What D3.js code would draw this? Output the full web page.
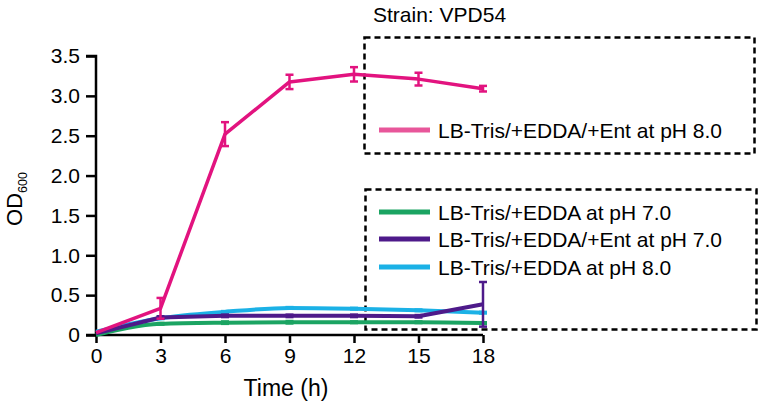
<!DOCTYPE html>
<html><head><meta charset="utf-8">
<script src="https://cdn.jsdelivr.net/npm/d3@7"></script>
<style>body{margin:0;background:#fff}svg{font-family:Arial,"Liberation Sans",sans-serif}</style>
</head><body><svg id="c" width="763" height="410"></svg>
<script>
const times = [0, 3, 6, 9, 12, 15, 18];
const xTicks = [0, 3, 6, 9, 12, 15, 18];
const yTicks = [0, 0.5, 1.0, 1.5, 2.0, 2.5, 3.0, 3.5];
const yTickLabels = ["0", "0.5", "1.0", "1.5", "2.0", "2.5", "3.0", "3.5"];
const seriesNames = ["LB-Tris/+EDDA at pH 7.0", "LB-Tris/+EDDA/+Ent at pH 7.0", "LB-Tris/+EDDA at pH 8.0", "LB-Tris/+EDDA/+Ent at pH 8.0"];
const greenVals = [0.00, 0.14, 0.155, 0.16, 0.16, 0.16, 0.15];
const greenErr = [0.00, 0.01, 0.015, 0.015, 0.01, 0.01, 0.01];
const purpleVals = [0.02, 0.22, 0.24, 0.24, 0.24, 0.235, 0.385];
const purpleErr = [0.00, 0.015, 0.015, 0.015, 0.015, 0.015, 0.28];
const cyanVals = [0.04, 0.21, 0.29, 0.34, 0.33, 0.31, 0.28];
const cyanErr = [0.00, 0.01, 0.01, 0.01, 0.01, 0.01, 0.01];
const pinkVals = [0.03, 0.335, 2.52, 3.175, 3.27, 3.21, 3.09];
const pinkErr = [0.01, 0.13, 0.15, 0.09, 0.09, 0.08, 0.035];

const svg = d3.select("#c");
const x = d3.scaleLinear().domain([0, 18]).range([96, 483]);
const y = d3.scaleLinear().domain([0, 3.5]).range([335, 56]);

// legend boxes
const gL = svg.append("g");
gL.append("rect").attr("x", 364.5).attr("y", 37.5).attr("width", 390).attr("height", 116)
  .attr("fill", "none").attr("stroke", "#000").attr("stroke-width", 2.5).attr("stroke-dasharray", "6,4");
gL.append("rect").attr("x", 365.5).attr("y", 189.5).attr("width", 391).attr("height", 140)
  .attr("fill", "none").attr("stroke", "#000").attr("stroke-width", 2.5).attr("stroke-dasharray", "6,4");

// axes
const ax = svg.append("g").attr("transform", "translate(0,335)")
  .call(d3.axisBottom(x).tickValues(xTicks).tickSize(8).tickPadding(5).tickFormat(d3.format("d")));
const ay = svg.append("g").attr("transform", "translate(96,0)")
  .call(d3.axisLeft(y).tickValues(yTicks).tickSize(10).tickPadding(6).tickFormat((d, i) => yTickLabels[i]));
[ax, ay].forEach(a => {
  a.select(".domain").attr("stroke", "#000").attr("stroke-width", 2.5);
  a.selectAll(".tick line").attr("stroke", "#000").attr("stroke-width", 2.5);
  a.selectAll(".tick text").attr("fill", "#000").style("font-size", "21px");
});
ax.select(".domain").attr("d", "M86,0H483");
ay.select(".domain").attr("d", "M-10,56H0V335");

svg.append("text").attr("x", 286).attr("y", 396).attr("text-anchor", "middle")
  .style("font-size", "23px").text("Time (h)");
const yl = svg.append("text").attr("transform", "translate(22,199) rotate(-90)").attr("text-anchor", "middle")
  .style("font-size", "22px");
yl.append("tspan").text("OD");
yl.append("tspan").attr("dy", 5).style("font-size", "12.5px").text("600");

svg.append("text").attr("x", 373).attr("y", 22).style("font-size", "21px").text("Strain: VPD54");

const series = [
  {vals: greenVals, err: greenErr, color: "#1BA462", w: 4, curve: d3.curveMonotoneX},
  {vals: cyanVals, err: cyanErr, color: "#1BB1E6", w: 4, curve: d3.curveMonotoneX},
  {vals: purpleVals, err: purpleErr, color: "#4E1A8A", w: 4, curve: d3.curveLinear},
  {vals: pinkVals, err: pinkErr, color: "#E2137F", w: 3.5, curve: d3.curveLinear}
];
series.forEach(s => {
  const g = svg.append("g");
  g.append("path").datum(times.map((t, i) => [t, s.vals[i]]))
    .attr("fill", "none").attr("stroke", s.color).attr("stroke-width", s.w)
    .attr("stroke-linejoin", "round")
    .attr("d", d3.line().x(d => x(d[0])).y(d => y(d[1])).curve(s.curve));
  times.forEach((t, i) => {
    if (i === 0 || s.err[i] <= 0) return;
    const cx = x(t), y1 = y(s.vals[i] + s.err[i]), y2 = y(s.vals[i] - s.err[i]);
    g.append("line").attr("x1", cx).attr("x2", cx).attr("y1", y1).attr("y2", y2)
      .attr("stroke", s.color).attr("stroke-width", 2.5);
    [y1, y2].forEach(yy => g.append("line").attr("x1", cx - 4).attr("x2", cx + 4).attr("y1", yy).attr("y2", yy)
      .attr("stroke", s.color).attr("stroke-width", 2.5));
  });
});

// legend entries
const leg = [
  {name: seriesNames[3], color: "#E8569A", ly: 130},
  {name: seriesNames[0], color: "#1BA462", ly: 212},
  {name: seriesNames[1], color: "#4E1A8A", ly: 239},
  {name: seriesNames[2], color: "#1BB1E6", ly: 267}
];
leg.forEach(l => {
  svg.append("line").attr("x1", 379).attr("x2", 430).attr("y1", l.ly).attr("y2", l.ly)
    .attr("stroke", l.color).attr("stroke-width", 5);
  svg.append("text").attr("x", 438).attr("y", l.ly + 7.5).style("font-size", "21px").text(l.name);
});
</script></body></html>
